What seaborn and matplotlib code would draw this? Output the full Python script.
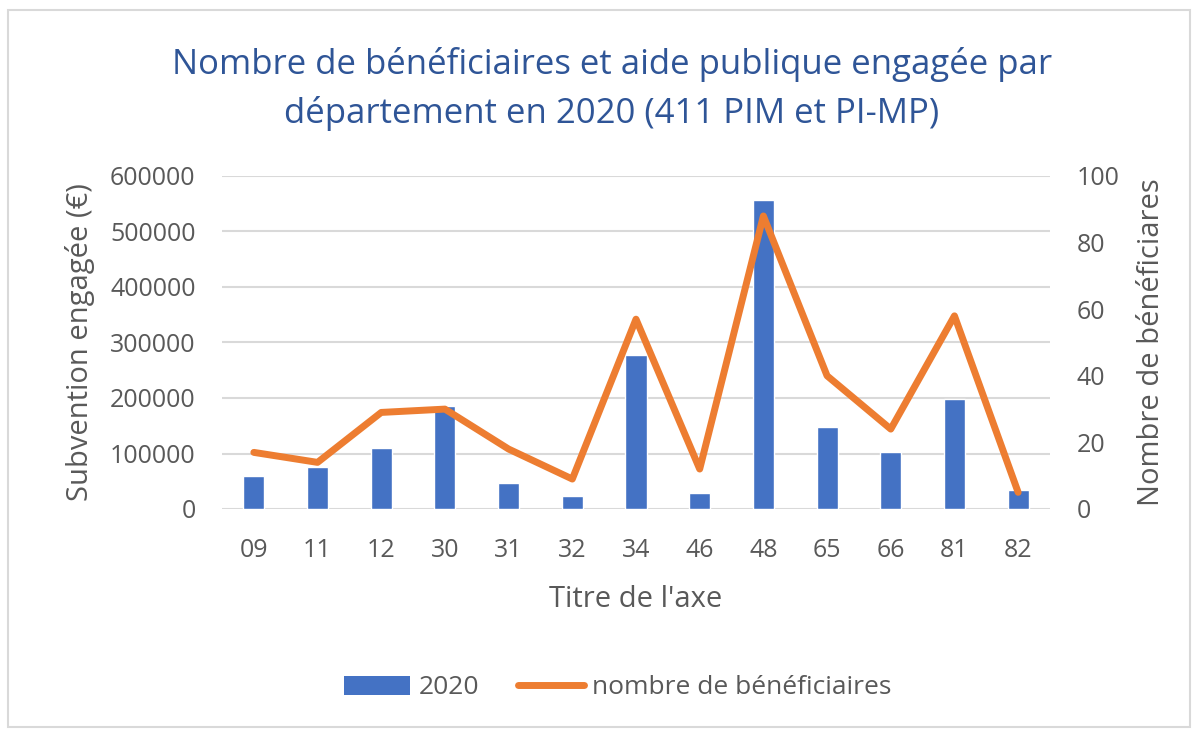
import matplotlib
matplotlib.use("Agg")
import matplotlib.pyplot as plt
import seaborn as sns
import pandas as pd
import numpy as np
from matplotlib.patches import Rectangle
from matplotlib.lines import Line2D
from matplotlib.patches import Patch

departements = ["09", "11", "12", "30", "31", "32", "34", "46", "48", "65", "66", "81", "82"]
subvention = [60000, 75000, 110000, 185000, 46000, 23000, 277000, 29000, 556000, 148000, 103000, 199000, 34000]
beneficiaires = [17, 14, 29, 30, 18, 9, 57, 12, 88, 40, 24, 58, 5]

title = "Nombre de bénéficiaires et aide publique engagée par\ndépartement en 2020 (411 PIM et PI-MP)"
bar_label = "2020"
line_label = "nombre de bénéficiaires"
xlabel = "Titre de l'axe"
ylabel_left = "Subvention engagée (€)"
ylabel_right = "Nombre de bénéficiares"

sns.set_theme(style="white")
plt.rcParams['font.family'] = ['Open Sans', 'DejaVu Sans']

blue = "#4472C4"
orange = "#ED7D31"
gray_txt = "#595959"
grid_c = "#D9D9D9"

df = pd.DataFrame({"dep": departements, "sub": subvention, "nb": beneficiaires})

fig = plt.figure(figsize=(11.98, 7.30), dpi=100)
ax = fig.add_axes([222/1198, 1 - 509/730, (1050-222)/1198, (509-176)/730])

sns.barplot(data=df, x="dep", y="sub", color=blue, width=0.33, ax=ax, saturation=1, zorder=2)
ax.set_ylim(0, 600000)
ax.set_xlim(-0.5, 12.5)
ax.set_yticks(np.arange(0, 600001, 100000))
ax.set_yticklabels([str(v) for v in range(0, 600001, 100000)])
ax.yaxis.grid(True, color=grid_c, linewidth=1.5, zorder=0)
ax.set_axisbelow(True)
for s in ax.spines.values():
    s.set_visible(False)
ax.tick_params(axis="both", length=0, labelsize=18, colors=gray_txt)
ax.tick_params(axis="x", pad=21)
ax.tick_params(axis="y", pad=19)
ax.set_xlabel(xlabel, fontsize=21, color=gray_txt, labelpad=16)
ax.set_ylabel(ylabel_left, fontsize=21, color=gray_txt, labelpad=11)

ax2 = ax.twinx()
sns.lineplot(x=np.arange(len(departements)), y=beneficiaires, color=orange, linewidth=5, ax=ax2,
             solid_capstyle="round", solid_joinstyle="round", zorder=3)
ax2.set_ylim(0, 100)
ax2.set_yticks(np.arange(0, 101, 20))
for s in ax2.spines.values():
    s.set_visible(False)
ax2.tick_params(axis="y", length=0, labelsize=18, colors=gray_txt, pad=19)
ax2.set_ylabel(ylabel_right, fontsize=21, color=gray_txt, labelpad=13)
ax2.set_xlim(-0.5, 12.5)

fig.text(612/1198, 1 - 89/730, title, ha="center", va="center", fontsize=25, color="#2F5597", linespacing=1.5)

handles = [Patch(facecolor=blue, edgecolor="none"),
           Line2D([0], [0], color=orange, linewidth=5, solid_capstyle="round")]
fig.legend(handles, [bar_label, line_label], loc="center", bbox_to_anchor=(618/1198, 1 - 688/730),
           ncol=2, frameon=False, fontsize=19, labelcolor=gray_txt, handlelength=2.5, columnspacing=1.5,
           handletextpad=0.3)

fig.patches.append(Rectangle((8/1198, 1 - 727/730), (1190-8)/1198, (727-10)/730, transform=fig.transFigure,
                             fill=False, edgecolor="#D9D9D9", linewidth=1.5))

fig.savefig("out.png", dpi=100, facecolor="white")
